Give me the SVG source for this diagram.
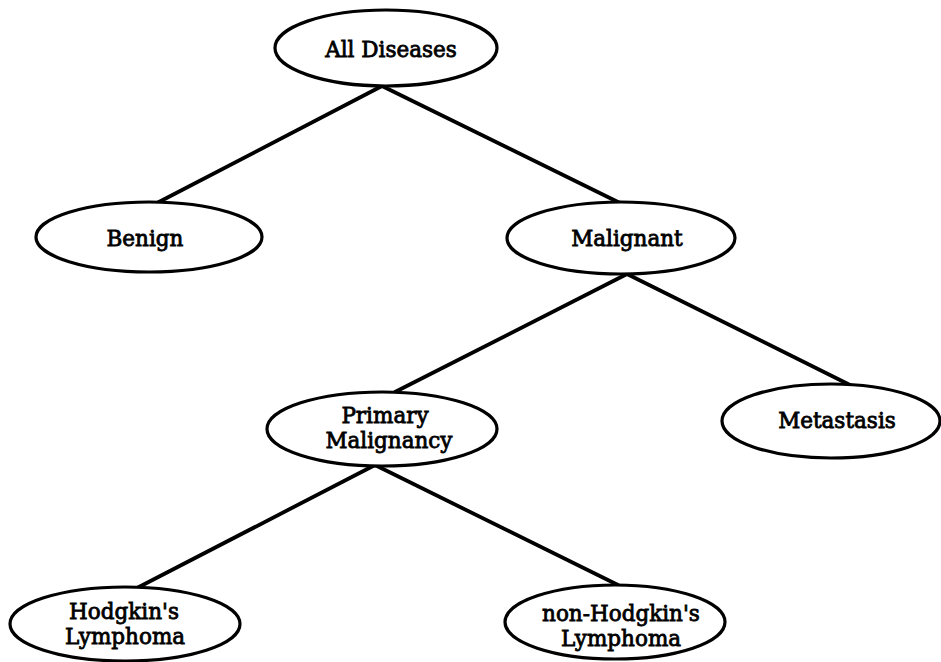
<svg xmlns="http://www.w3.org/2000/svg" width="941" height="662" viewBox="0 0 941 662">
<style>
.n ellipse{fill:#fff;stroke:#000;stroke-width:3.2}
.n text{font-family:"DejaVu Serif","Liberation Serif",serif;font-size:21.5px;fill:#000;stroke:#000;stroke-width:0.8;text-anchor:middle}
#edges line{stroke:#000;stroke-width:3.8;stroke-linecap:round}
</style>
<rect width="941" height="662" fill="#fff"/>
<g id="edges">
<line x1="382" y1="86" x2="157" y2="203"/>
<line x1="382" y1="86" x2="620" y2="203"/>
<line x1="627" y1="274" x2="395" y2="392"/>
<line x1="627" y1="274" x2="852" y2="386"/>
<line x1="375" y1="465" x2="137" y2="588"/>
<line x1="375" y1="465" x2="618" y2="585"/>
</g>
<g id="all-diseases" class="n"><ellipse cx="386" cy="48" rx="111" ry="38"/><text x="391" y="57">All Diseases</text></g>
<g id="benign" class="n"><ellipse cx="149" cy="237" rx="113" ry="35"/><text x="145" y="246">Benign</text></g>
<g id="malignant" class="n"><ellipse cx="621" cy="238" rx="114" ry="36"/><text x="627" y="246">Malignant</text></g>
<g id="primary" class="n"><ellipse cx="382" cy="429" rx="115" ry="37"/><text x="385" y="423">Primary</text><text x="389" y="448">Malignancy</text></g>
<g id="metastasis" class="n"><ellipse cx="831" cy="421" rx="109" ry="37"/><text x="837" y="428">Metastasis</text></g>
<g id="hodgkins" class="n"><ellipse cx="125" cy="624" rx="115" ry="37"/><text x="124" y="619">Hodgkin's</text><text x="125" y="644">Lymphoma</text></g>
<g id="non-hodgkins" class="n"><ellipse cx="615" cy="622" rx="110" ry="37"/><text x="621" y="621">non-Hodgkin's</text><text x="621" y="646">Lymphoma</text></g>
</svg>
